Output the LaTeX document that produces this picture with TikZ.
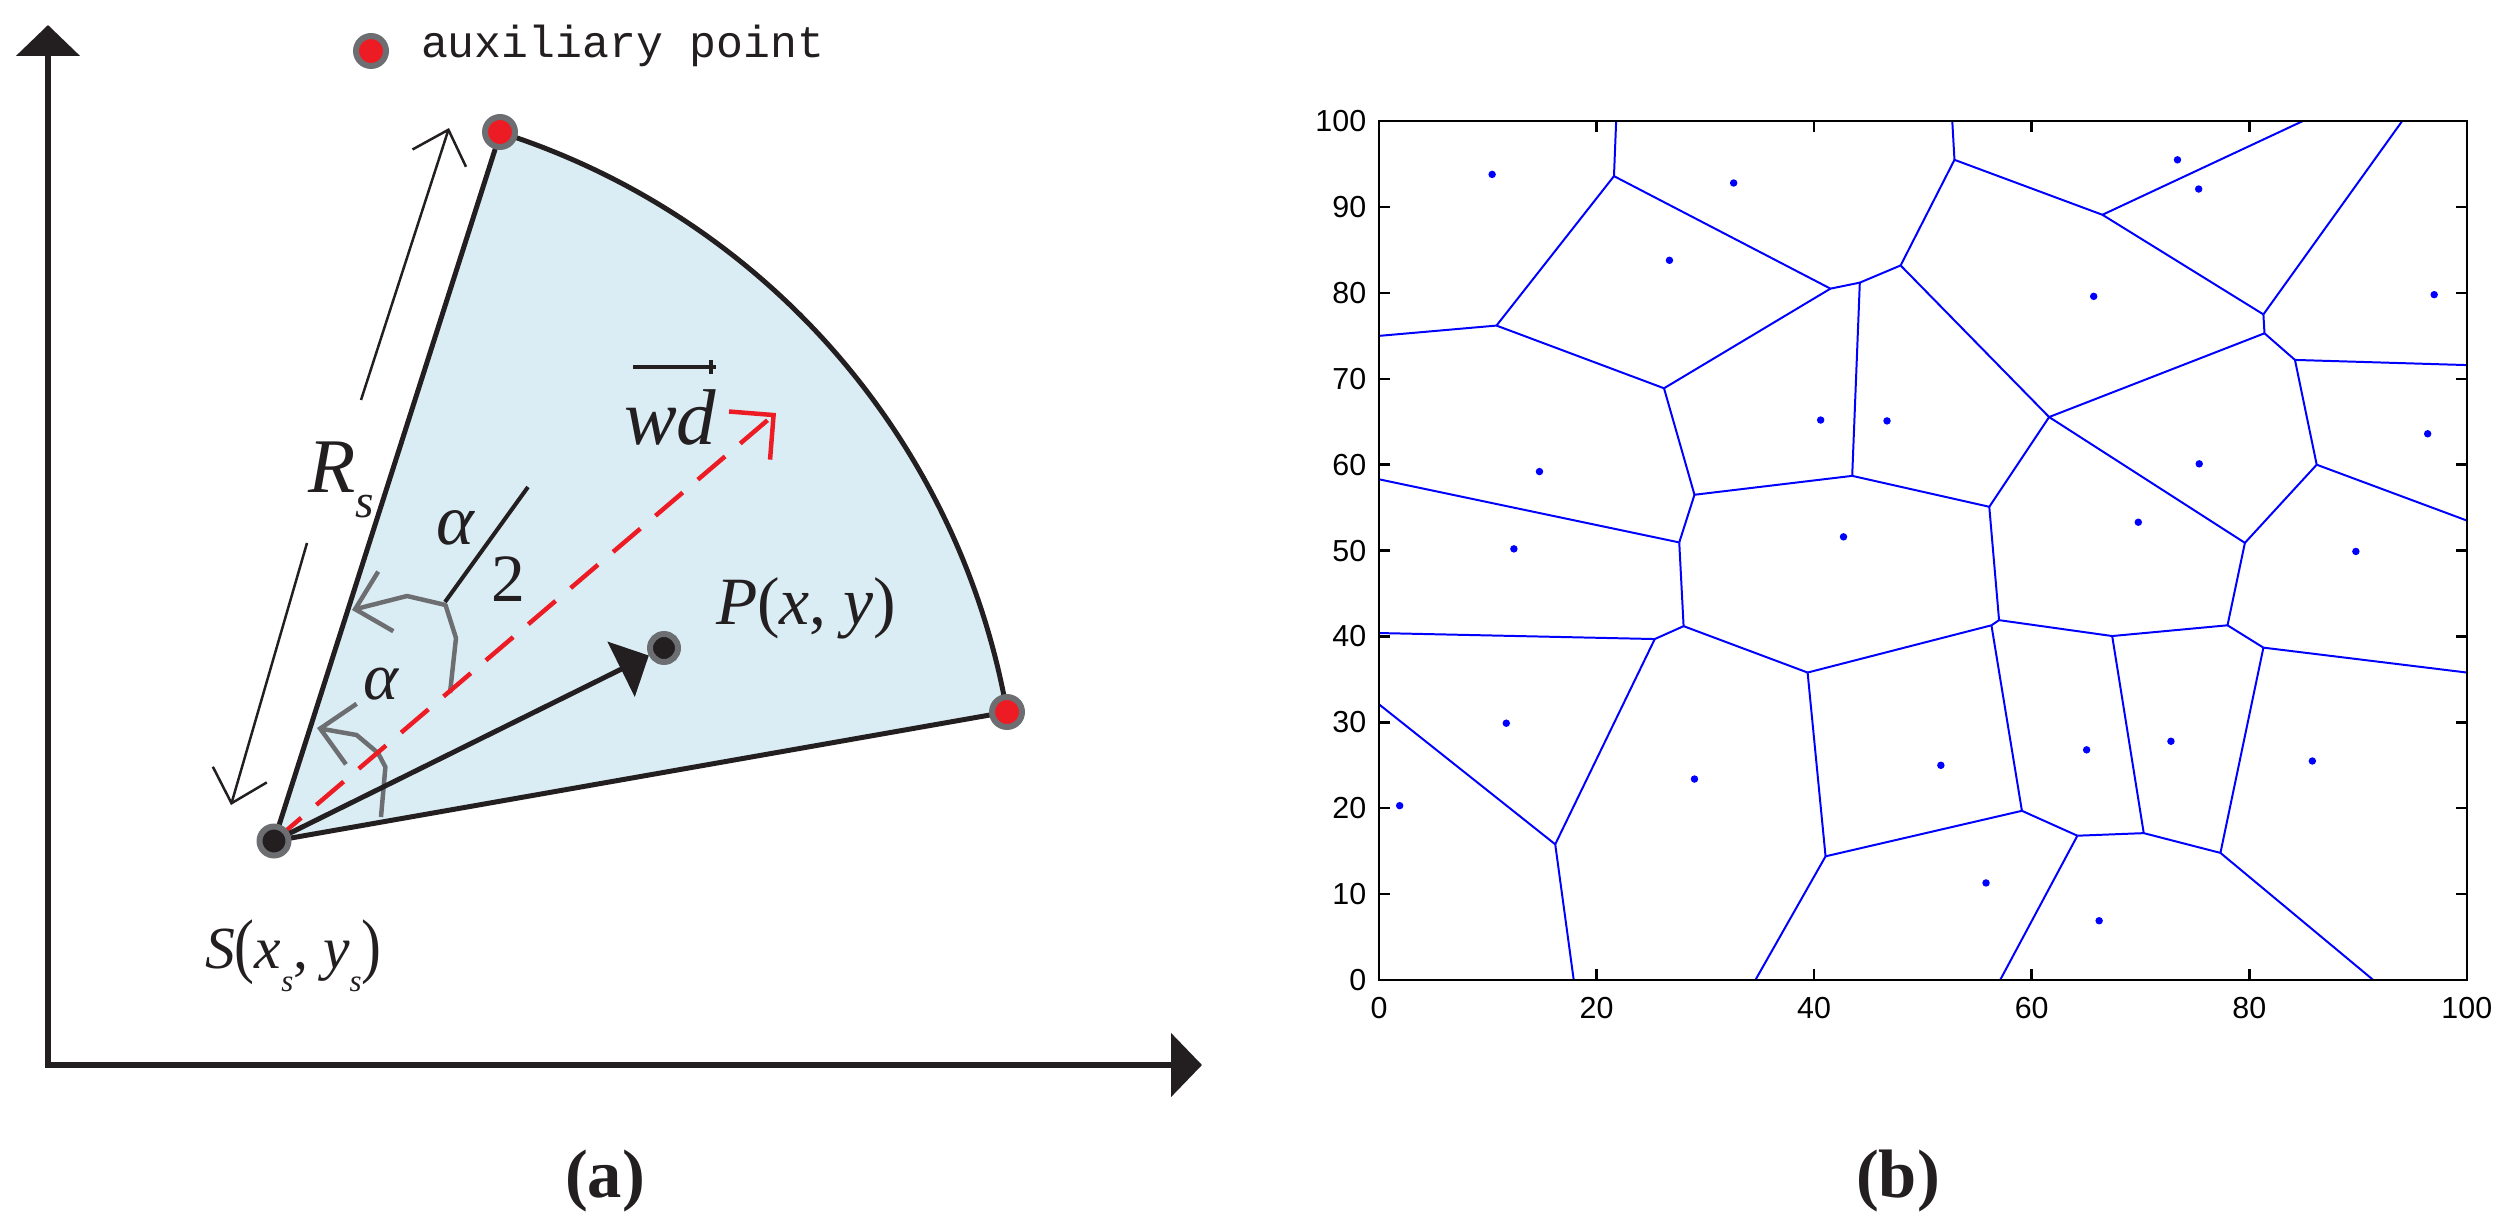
\documentclass[tikz,border=0pt]{standalone}
\usepackage{fontspec}
\usepackage{graphicx}
\setmainfont{Liberation Serif}
\newfontfamily\monof{Liberation Mono}
\newfontfamily\sansf{Liberation Sans}
\usetikzlibrary{arrows.meta}
\definecolor{ink}{RGB}{35,31,32}
\definecolor{ptred}{RGB}{237,28,36}
\definecolor{ptgray}{RGB}{109,110,113}
\definecolor{skyfill}{RGB}{218,237,244}
\definecolor{vblue}{RGB}{0,0,255}
\begin{document}
\begin{tikzpicture}[x=0.02cm, y=-0.02cm,
  axisline/.style={draw=ink, line width=3.4pt, line join=miter, {Triangle[length=17.6pt,width=35.7pt]}-{Triangle[length=17.6pt,width=35.7pt]}},
  sector/.style={fill=skyfill, draw=ink, line width=2.83pt, line join=round},
  dotr/.style={circle, fill=ptred, draw=ptgray, line width=3.4pt, minimum size=0.6cm, inner sep=0pt},
  dotk/.style={circle, fill=ink, draw=ptgray, line width=3.4pt, minimum size=0.58cm, inner sep=0pt},
  dirarrow/.style={draw=ink, line width=2.83pt, -{Triangle[length=17.6pt,width=34.6pt]}},
  wdarrow/.style={draw=ptred, line width=2.55pt, dash pattern=on 20.4pt off 11.3pt, -{Straight Barb[length=18pt,width=36pt]}},
  garc/.style={draw=ptgray, line width=2.55pt, line join=round, -{Straight Barb[length=18pt,width=35pt]}},
  rsarrow/.style={draw=ink, line width=1.42pt, -{Straight Barb[length=17pt,width=32pt]}},
  lbl/.style={anchor=base west, inner sep=0pt, outer sep=0pt, text=ink},
  caption/.style={inner sep=0pt, text=ink, font=\fontsize{39}{39}\selectfont\bfseries},
  vor/.style={draw=vblue, line width=1.13pt},
  frame/.style={draw=black, line width=1.4pt},
  site/.style={circle, fill=vblue, inner sep=0pt, minimum size=4.25pt},
  xtl/.style={anchor=north, inner sep=0pt, yshift=-9.6pt, font=\sansf\fontsize{17.3}{17.3}\selectfont},
  ytl/.style={anchor=east, inner sep=0pt, xshift=-7.1pt, font=\sansf\fontsize{17.3}{17.3}\selectfont}
]
\useasboundingbox (0,0) rectangle (2505,1222);

% ---------------- panel (a) ----------------
\coordinate (O) at (48,1065);
\coordinate (Ytip) at (48,25);
\coordinate (Xtip) at (1202,1065);
\draw[axisline] (Ytip) -- (O) -- (Xtip);

\coordinate (S) at (274,841);
\coordinate (R) at (1007,712);
\coordinate (T) at (500,132);
\coordinate (W) at (776,413);

\filldraw[sector] (S) -- (R) arc[start angle=-10, end angle=-72.3, radius=744] -- cycle;

% R_s double arrow
\coordinate (RsTopA) at (361,400);
\coordinate (RsTopB) at (449,128);
\coordinate (RsBotA) at (307,543);
\coordinate (RsBotB) at (231,805);
\draw[rsarrow] (RsTopA) -- (RsTopB);
\draw[rsarrow] (RsBotA) -- (RsBotB);

% angle arcs
\draw[garc] (450,693) -- (456,638) -- (445.5,605) -- (407,596) -- (352,610);
\draw[garc] (381,817) -- (385.4,767) -- (378,753) -- (356.6,735) -- (317,728);

% wd direction
\draw[wdarrow] (S) -- (W);

% point P and arrow
\node[dotk, minimum size=0.56cm] (Pd) at (664,648) {};
\draw[dirarrow] (S) -- (Pd);

% dots
\node[dotk] (Sd) at (S) {};
\node[dotr] (Td) at (T) {};
\node[dotr] (Rd) at (R) {};

% legend
\node[dotr] (legdot) at (371,51) {};
\node[lbl, font=\monof\fontsize{25.5}{25.5}\selectfont] (legtxt) at (421,58) {auxiliary point};

% labels
\node[lbl] (Rlab) at (308,493) {\fontsize{44}{44}\selectfont\itshape R\raisebox{-14.2pt}{\fontsize{27}{27}\selectfont s}};
\node[lbl] (wdlab) at (624,445) {\fontsize{45}{45}\selectfont\itshape wd};
\draw[ink, line width=2.8pt] (633,367) -- (716,367);
\draw[ink, line width=2.2pt] (711,360) -- (711,374);
\node[lbl] (al1) at (436,545) {\fontsize{41}{41}\selectfont\itshape α};
\node[lbl] (two) at (491,602) {\fontsize{38.5}{38.5}\selectfont 2};
\draw[ink, line width=2.3pt] (528,487) -- (445,602);
\node[lbl] (al2) at (363,700) {\fontsize{38}{38}\selectfont\itshape α};
\node[lbl] (Plab) at (716,625) {\fontsize{38.5}{38.5}\selectfont\itshape P\upshape(\itshape x\upshape, \itshape y\upshape)};
\node[lbl] (Slab) at (205,968) {\fontsize{34}{34}\selectfont\itshape S\upshape\raisebox{-1pt}{\scalebox{1}[1.2]{(}}\itshape x\raisebox{-13.6pt}{\fontsize{17.6}{17.6}\selectfont s}\upshape, \itshape y\raisebox{-13.6pt}{\fontsize{17.6}{17.6}\selectfont s}\upshape\raisebox{-1pt}{\scalebox{1}[1.2]{)}}};

\node[caption] (capa) at (605,1181) {(a)};
\node[caption] (capb) at (1898,1181) {(b)};

% ---------------- panel (b) ----------------
\begin{scope}[shift={(1379,980)}, x=0.2176cm, y=0.1718cm]
  \foreach \xa/\ya/\xb/\yb in {
    21.8/100/21.6/93.6, 21.6/93.6/10.8/76.2, 10.8/76.2/0/75, 21.6/93.6/41.5/80.5,
    41.5/80.5/44.2/81.2, 44.2/81.2/47.95/83.2, 44.2/81.2/43.5/58.7, 10.8/76.2/26.2/68.9,
    26.2/68.9/41.5/80.5, 26.2/68.9/29.0/56.5, 29.0/56.5/43.5/58.7, 43.5/58.7/56.1/55.1,
    29.0/56.5/27.6/50.95, 27.6/50.95/0/58.3, 27.6/50.95/28.0/41.2, 52.7/100/52.9/95.5,
    52.9/95.5/47.95/83.2, 52.9/95.5/66.5/89.1, 66.5/89.1/84.9/100, 66.5/89.1/81.3/77.5,
    81.3/77.5/94.05/100, 81.3/77.5/81.4/75.3, 81.4/75.3/61.6/65.55, 47.95/83.2/61.6/65.55,
    81.4/75.3/84.2/72.2, 84.2/72.2/100/71.6, 84.2/72.2/86.2/60.0, 86.2/60.0/100/53.5,
    86.2/60.0/79.6/50.9, 61.6/65.55/79.6/50.9, 61.6/65.55/56.1/55.1, 56.1/55.1/57.0/41.9,
    79.6/50.9/78.0/41.3, 78.0/41.3/81.3/38.7, 81.3/38.7/100/35.8, 81.3/38.7/77.35/14.8,
    77.35/14.8/91.4/0, 77.35/14.8/70.3/17.1, 78.0/41.3/67.4/40.05, 67.4/40.05/70.3/17.1,
    67.4/40.05/57.0/41.9, 57.0/41.9/56.3/41.3, 56.3/41.3/39.4/35.8, 56.3/41.3/59.1/19.7,
    59.1/19.7/41.05/14.4, 59.1/19.7/64.2/16.8, 64.2/16.8/70.3/17.1, 64.2/16.8/57.1/0,
    28.0/41.2/25.35/39.7, 25.35/39.7/0/40.4, 25.35/39.7/16.2/15.8, 16.2/15.8/0/32.1,
    16.2/15.8/17.9/0, 28.0/41.2/39.4/35.8, 39.4/35.8/41.05/14.4, 41.05/14.4/34.6/0}
    {\draw[vor] (\xa,\ya) -- (\xb,\yb);}
  \foreach \sx/\sy [count=\i] in {10.4/93.8, 32.6/92.8, 26.7/83.8, 14.75/59.2, 12.4/50.2,
    40.6/65.2, 46.7/65.1, 42.7/51.6, 73.4/95.5, 75.35/92.1, 65.7/79.6, 97.0/79.8,
    96.4/63.6, 75.4/60.1, 69.8/53.3, 89.8/49.9, 1.9/20.3, 11.7/29.9, 29.0/23.4,
    51.65/25.0, 65.05/26.8, 72.8/27.8, 85.8/25.5, 55.8/11.3, 66.2/6.9}
    {\node[site] (st\i) at (\sx,\sy) {};}
  \draw[frame] (0,0) rectangle (100,100);
  \foreach \v in {20,40,60,80} {
    \draw[frame] (\v,0) -- (\v,1.28);
    \draw[frame] (\v,100) -- (\v,98.72);
  }
  \foreach \v in {10,20,...,90} {
    \draw[frame] (0,\v) -- (1.01,\v);
    \draw[frame] (100,\v) -- (98.99,\v);
  }
  \foreach \v in {0,20,...,100} {\node[xtl] (xl\v) at (\v,0) {\v};}
  \foreach \v in {0,10,...,100} {\node[ytl] (yl\v) at (0,\v) {\v};}
\end{scope}
\end{tikzpicture}
\end{document}
